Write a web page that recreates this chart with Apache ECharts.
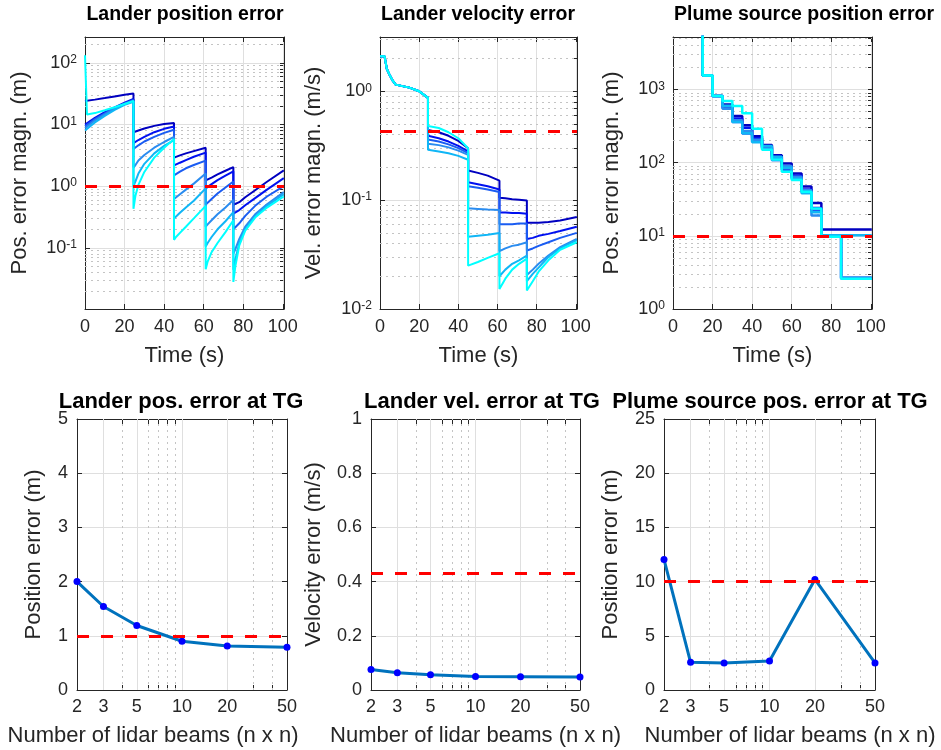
<!DOCTYPE html>
<html>
<head>
<meta charset="utf-8">
<title>Lidar beam study</title>
<script src="https://cdn.jsdelivr.net/npm/echarts@6.0.0/dist/echarts.min.js"></script>
<style>
html,body{margin:0;padding:0;background:#ffffff;}
#chart{width:941px;height:750px;}
</style>
</head>
<body>
<div id="chart"></div>
<script>
// ================= DATA =================
const beams = [2, 3, 5, 10, 20, 50];
const seriesNames = ['2 x 2', '3 x 3', '5 x 5', '10 x 10', '20 x 20', '50 x 50'];

// --- Lander position error vs time (m) ---
const posTime = [0, 1, 5, 10, 15, 20, 24.5, 24.5, 25.5, 27, 30, 35, 40, 45, 45, 46, 48, 51, 55, 61, 61, 62, 64, 67, 71, 75, 75, 76, 78, 81, 86, 92, 100.5];
const posErr_n2  = [24, 24.3, 25.3, 26.8, 28.5, 30.3, 31.7, 7.5, 7.7, 8.0, 8.6, 9.5, 10.2, 10.6, 2.9, 3.0, 3.15, 3.4, 3.7, 4.2, 1.24, 1.28, 1.38, 1.55, 1.78, 2.04, 0.5, 0.51, 0.55, 0.66, 0.86, 1.18, 1.8];
const posErr_n3  = [10, 10.6, 12.8, 15.8, 19, 22.5, 26, 5.0, 5.2, 5.6, 6.3, 7.5, 8.5, 9.3, 2.17, 2.25, 2.4, 2.65, 3.0, 3.5, 0.92, 0.98, 1.08, 1.25, 1.48, 1.74, 0.36, 0.37, 0.41, 0.49, 0.64, 0.88, 1.35];
const posErr_n5  = [9.3, 9.9, 12.2, 15.2, 18.5, 22, 25, 4.0, 4.2, 4.6, 5.3, 6.3, 7.3, 8.2, 1.5, 1.58, 1.72, 1.95, 2.2, 2.6, 0.5, 0.54, 0.62, 0.76, 0.95, 1.19, 0.2, 0.21, 0.25, 0.33, 0.48, 0.68, 1.0];
const posErr_n10 = [8.7, 9.3, 11.6, 14.6, 18, 21.5, 24, 2.0, 2.2, 2.6, 3.2, 4.2, 5.2, 6.3, 0.62, 0.66, 0.74, 0.88, 1.1, 1.6, 0.22, 0.24, 0.28, 0.35, 0.45, 0.6, 0.081, 0.095, 0.14, 0.22, 0.35, 0.51, 0.8];
const posErr_n20 = [8.0, 8.6, 10.8, 13.8, 17.2, 20.8, 23.3, 1.0, 1.2, 1.6, 2.3, 3.4, 4.5, 5.6, 0.3, 0.32, 0.37, 0.45, 0.58, 0.92, 0.105, 0.12, 0.15, 0.2, 0.27, 0.38, 0.044, 0.065, 0.12, 0.2, 0.32, 0.48, 0.74];
const posErr_n50 = [133, 14.5, 15.3, 17, 19, 21.5, 24, 0.43, 0.7, 1.05, 1.7, 2.9, 4.2, 5.8, 0.135, 0.15, 0.175, 0.22, 0.3, 0.48, 0.045, 0.06, 0.085, 0.12, 0.18, 0.28, 0.028, 0.05, 0.11, 0.19, 0.31, 0.45, 0.68];
const posLimit = 1;

// --- Lander velocity error vs time (m/s) ---
const velTime = [0, 2.3, 3.5, 5, 6.5, 8, 15, 20, 24.5, 24.5, 30, 35, 40, 45, 45, 50, 55, 61, 61, 64, 67.5, 71, 75, 75, 78, 81, 86, 92, 100.5];
const velEarly = [2.1, 2.1, 1.6, 1.4, 1.25, 1.15, 1.08, 1.0, 0.87];
const velLate_n2  = [0.44, 0.42, 0.39, 0.35, 0.30, 0.187, 0.178, 0.168, 0.151, 0.105, 0.104, 0.102, 0.101, 0.099, 0.062, 0.062, 0.062, 0.063, 0.065, 0.07];
const velLate_n3  = [0.39, 0.37, 0.345, 0.315, 0.28, 0.146, 0.14, 0.134, 0.125, 0.077, 0.077, 0.076, 0.076, 0.075, 0.044, 0.045, 0.047, 0.049, 0.052, 0.057];
const velLate_n5  = [0.36, 0.345, 0.325, 0.3, 0.27, 0.134, 0.13, 0.125, 0.119, 0.06, 0.06, 0.06, 0.061, 0.061, 0.0345, 0.036, 0.038, 0.041, 0.045, 0.05];
const velLate_n10 = [0.33, 0.32, 0.305, 0.285, 0.26, 0.084, 0.083, 0.082, 0.081, 0.034, 0.036, 0.038, 0.039, 0.041, 0.0205, 0.023, 0.026, 0.031, 0.037, 0.044];
const velLate_n20 = [0.29, 0.28, 0.27, 0.255, 0.235, 0.046, 0.047, 0.048, 0.05, 0.02, 0.023, 0.026, 0.028, 0.031, 0.018, 0.021, 0.024, 0.03, 0.036, 0.043];
const velLate_n50 = [0.48, 0.46, 0.42, 0.37, 0.30, 0.025, 0.027, 0.0295, 0.0325, 0.0153, 0.019, 0.023, 0.026, 0.029, 0.0148, 0.018, 0.022, 0.028, 0.035, 0.041];
const velLimit = 0.435;

// --- Plume source position error vs time (m), staircase ---
const plumeTime = [0, 15, 20, 25, 30, 35, 40, 45, 50, 55, 60, 65, 70, 75, 85, 100.5];
const plumeErr_n2  = [20000, 1550, 810, 620, 433, 323, 230, 174, 126, 97, 71, 47, 28, 12.2, 12.2, 12.2];
const plumeErr_n3  = [20000, 1550, 810, 590, 400, 300, 215, 165, 118, 88, 66, 43, 24, 9.9, 2.65, 2.65];
const plumeErr_n5  = [20000, 1550, 810, 560, 360, 250, 195, 160, 112, 80, 62, 40, 22, 9.9, 2.6, 2.6];
const plumeErr_n10 = [20000, 1550, 810, 545, 380, 270, 205, 156, 108, 90, 64, 42, 19, 9.9, 2.7, 2.7];
const plumeErr_n20 = [20000, 1550, 810, 600, 358, 251, 190, 168, 120, 85, 60, 38, 21, 10.2, 10.2, 10.2];
const plumeErr_n50 = [20000, 1550, 810, 692, 593, 471, 290, 150, 110, 75, 58, 40, 23.6, 9.7, 2.6, 2.6];
const plumeLimit = 10;

// --- Errors at TG vs number of beams ---
const posErrTG   = [2.0, 1.54, 1.19, 0.9, 0.81, 0.79];
const velErrTG   = [0.076, 0.064, 0.056, 0.05, 0.049, 0.048];
const plumeErrTG = [12.05, 2.55, 2.5, 2.68, 10.2, 2.5];

// tick / grid values for the beam axis
const beamMajorGrid = [3, 5, 10, 20];
const beamMinorGrid = [4, 6, 7, 8, 9, 30, 40];

// ================= STYLE =================
const FONT = '"Liberation Sans", Arial, Helvetica, sans-serif';
const INK = '#262626';
const GRID_MAJOR = '#DFDFDF';
const GRID_MINOR = '#C4C4C4';
const lineColors = ['#0000C0', '#0010F0', '#1A5CF2', '#2A8CF0', '#10B6F6', '#00FFFF'];

const gridBoxes = [
  {left: 85,  top: 37,  width: 199, height: 272},
  {left: 380, top: 37,  width: 197, height: 272},
  {left: 673, top: 37,  width: 199, height: 272},
  {left: 77,  top: 419, width: 210, height: 271},
  {left: 371, top: 419, width: 209, height: 271},
  {left: 664, top: 419, width: 211, height: 271}
];

function logLabel(v) {
  const e = Math.log10(v);
  const r = Math.round(e);
  if (Math.abs(e - r) > 1e-4) return '';
  return '10{sup|' + r + '}';
}
const supRich = {sup: {fontSize: 12, verticalAlign: 'top', color: INK, fontFamily: FONT}};

function logTickValues(lo, hi, withMinor) {
  const out = [];
  for (let k = Math.floor(Math.log10(lo)); k <= Math.ceil(Math.log10(hi)); k++) {
    for (let m = withMinor ? 1 : 1; m <= (withMinor ? 9 : 1); m++) {
      const v = m * Math.pow(10, k);
      if (v >= lo && v <= hi) out.push(v);
    }
  }
  return out;
}
function minorLogLines(lo, hi) {
  return logTickValues(lo, hi, true)
    .filter(v => Math.abs(Math.log10(v) - Math.round(Math.log10(v))) > 1e-6)
    .map(v => ({yAxis: v}));
}

const axisLineStyle = {show: true, onZero: false, lineStyle: {color: INK, width: 1}};
const tickStyle = {show: true, inside: true, length: 5, lineStyle: {color: INK, width: 1}};
const labelBase = {color: INK, fontSize: 18, fontFamily: FONT};
const nameStyle = {color: INK, fontSize: 22, fontFamily: FONT};

const xAxes = [];
const yAxes = [];
const series = [];

// ---------- top row: time histories ----------
const topY = [
  {min: 0.0102, max: 262, name: 'Pos. error magn. (m)', gap: 54},
  {min: 0.01, max: 3.15, name: 'Vel. error magn. (m/s)', gap: 55},
  {min: 1, max: 5200, name: 'Pos. error magn. (m)', gap: 50}
];
for (let i = 0; i < 3; i++) {
  xAxes.push({
    type: 'value', gridIndex: i, position: 'bottom', min: 0, max: 100.6, interval: 20,
    axisLine: axisLineStyle, axisTick: tickStyle,
    axisLabel: Object.assign({margin: 9, formatter: v => (Math.abs(v % 20) < 1e-9 ? String(v) : '')}, labelBase),
    splitLine: {show: true, showMinLine: false, showMaxLine: false, lineStyle: {color: GRID_MAJOR, width: 1}},
    name: 'Time (s)', nameLocation: 'middle', nameGap: 36, nameTextStyle: nameStyle
  });
  xAxes.push({
    type: 'value', gridIndex: i, position: 'top', min: 0, max: 100.6, interval: 20,
    axisLine: axisLineStyle, axisTick: tickStyle, axisLabel: {show: false}, splitLine: {show: false}
  });
  const c = topY[i];
  yAxes.push({
    type: 'log', logBase: 10, gridIndex: i, position: 'left', min: c.min, max: c.max,
    axisLine: axisLineStyle, axisTick: tickStyle,
    axisLabel: Object.assign({margin: 8, formatter: logLabel, rich: supRich}, labelBase),
    splitLine: {show: true, showMinLine: false, showMaxLine: false, lineStyle: {color: GRID_MAJOR, width: 1}},
    name: c.name, nameLocation: 'middle', nameGap: c.gap, nameTextStyle: nameStyle
  });
  yAxes.push({
    type: 'log', logBase: 10, gridIndex: i, position: 'right', min: c.min, max: c.max,
    axisLine: axisLineStyle,
    axisTick: Object.assign({}, tickStyle, {length: 4, customValues: logTickValues(c.min, c.max, true)}),
    axisLabel: {show: false}, splitLine: {show: false}
  });
}

function pairs(xs, ys) { return xs.map((x, k) => [x, ys[k]]); }

const posSets = [posErr_n2, posErr_n3, posErr_n5, posErr_n10, posErr_n20, posErr_n50];
const velSets = [velLate_n2, velLate_n3, velLate_n5, velLate_n10, velLate_n20, velLate_n50].map(a => velEarly.concat(a));
const plumeSets = [plumeErr_n2, plumeErr_n3, plumeErr_n5, plumeErr_n10, plumeErr_n20, plumeErr_n50];
const topTimes = [posTime, velTime, plumeTime];
const topSets = [posSets, velSets, plumeSets];
const topLimits = [posLimit, velLimit, plumeLimit];

function limitSeries(p, value) {
  return {
    type: 'line', xAxisIndex: 2 * p, yAxisIndex: 2 * p, data: [], silent: true,
    markLine: {
      silent: true, symbol: ['none', 'none'], z: 6, animation: false,
      label: {show: false}, emphasis: {disabled: true},
      lineStyle: {color: '#FF0000', width: 3, type: [12, 12]},
      data: [{yAxis: value}]
    }
  };
}

for (let p = 0; p < 3; p++) {
  const c = topY[p];
  topSets[p].forEach((vals, s) => {
    const ser = {
      type: 'line', name: seriesNames[s], xAxisIndex: 2 * p, yAxisIndex: 2 * p,
      data: pairs(topTimes[p], vals), showSymbol: false, symbol: 'none', clip: true,
      lineStyle: {width: p === 2 ? 2.5 : 2, color: lineColors[s]}, itemStyle: {color: lineColors[s]},
      emphasis: {disabled: true}, silent: true
    };
    if (p === 2) ser.step = 'end';
    if (s === 0) {
      ser.markLine = {
        silent: true, symbol: ['none', 'none'], z: 1, animation: false,
        label: {show: false}, emphasis: {disabled: true},
        lineStyle: {color: GRID_MINOR, width: 1, type: [2, 4]},
        data: minorLogLines(c.min, c.max)
      };
    }
    series.push(ser);
  });
  series.push(limitSeries(p, topLimits[p]));
}

// ---------- bottom row: errors at TG ----------
const botY = [
  {max: 5, interval: 1, name: 'Position error (m)', gap: 32, data: posErrTG, limit: posLimit, namePad: [0, 58, 0, 0]},
  {max: 1, interval: 0.2, name: 'Velocity error (m/s)', gap: 46, data: velErrTG, limit: velLimit, namePad: [0, 0, 0, 0]},
  {max: 25, interval: 5, name: 'Position error (m)', gap: 42, data: plumeErrTG, limit: plumeLimit, namePad: [0, 0, 0, 41]}
];
const beamTicks = beams.concat(beamMinorGrid);
for (let b = 0; b < 3; b++) {
  const p = b + 3;
  const c = botY[b];
  xAxes.push({
    type: 'log', logBase: 10, gridIndex: p, position: 'bottom', min: 2, max: 50,
    axisLine: axisLineStyle,
    axisTick: Object.assign({}, tickStyle, {customValues: beamTicks}),
    axisLabel: Object.assign({margin: 8, customValues: beams}, labelBase),
    splitLine: {show: false},
    name: 'Number of lidar beams (n x n)', nameLocation: 'middle', nameGap: 35,
    nameTextStyle: Object.assign({padding: c.namePad}, nameStyle)
  });
  xAxes.push({
    type: 'log', logBase: 10, gridIndex: p, position: 'top', min: 2, max: 50,
    axisLine: axisLineStyle, axisTick: Object.assign({}, tickStyle, {customValues: beamTicks}),
    axisLabel: {show: false}, splitLine: {show: false}
  });
  yAxes.push({
    type: 'value', gridIndex: p, position: 'left', min: 0, max: c.max, interval: c.interval,
    axisLine: axisLineStyle, axisTick: tickStyle,
    axisLabel: Object.assign({margin: 9}, labelBase),
    splitLine: {show: true, showMinLine: false, showMaxLine: false, lineStyle: {color: GRID_MAJOR, width: 1}},
    name: c.name, nameLocation: 'middle', nameGap: c.gap, nameTextStyle: nameStyle
  });
  yAxes.push({
    type: 'value', gridIndex: p, position: 'right', min: 0, max: c.max, interval: c.interval,
    axisLine: axisLineStyle, axisTick: tickStyle, axisLabel: {show: false}, splitLine: {show: false}
  });
  const gridMarks = beamMajorGrid.map(v => ({xAxis: v, lineStyle: {color: GRID_MAJOR, type: 'solid', width: 1}}))
    .concat(beamMinorGrid.map(v => ({xAxis: v, lineStyle: {color: GRID_MINOR, type: [2, 4], width: 1}})));
  series.push({
    type: 'line', name: c.name, xAxisIndex: 2 * p, yAxisIndex: 2 * p,
    data: pairs(beams, c.data), symbol: 'circle', symbolSize: 7, showSymbol: true, clip: false,
    lineStyle: {color: '#0072BD', width: 3}, itemStyle: {color: '#0000FF', borderWidth: 0},
    emphasis: {disabled: true}, silent: true, z: 3,
    markLine: {
      silent: true, symbol: ['none', 'none'], z: 1, animation: false,
      label: {show: false}, emphasis: {disabled: true}, data: gridMarks
    }
  });
  series.push(limitSeries(p, c.limit));
}

// ---------- titles ----------
const titleTexts = ['Lander position error', 'Lander velocity error', 'Plume source position error',
                    'Lander pos. error at TG', 'Lander vel. error at TG', 'Plume source pos. error at TG'];
const titleCenters = [185, 478, 804, 181, 482, 770];
const titles = titleTexts.map((t, k) => ({
  text: t, left: titleCenters[k], top: k < 3 ? 5 : 391, textAlign: 'center', padding: 0,
  textStyle: {fontSize: k < 3 ? 19.5 : 22, fontWeight: 'bold', color: '#000000', fontFamily: FONT}
}));

const chart = echarts.init(document.getElementById('chart'), null, {renderer: 'canvas'});
chart.setOption({
  animation: false,
  backgroundColor: '#ffffff',
  textStyle: {fontFamily: FONT},
  title: titles,
  grid: gridBoxes.map(g => Object.assign({containLabel: false, outerBoundsMode: 'none'}, g)),
  xAxis: xAxes,
  yAxis: yAxes,
  series: series
});
</script>
</body>
</html>
